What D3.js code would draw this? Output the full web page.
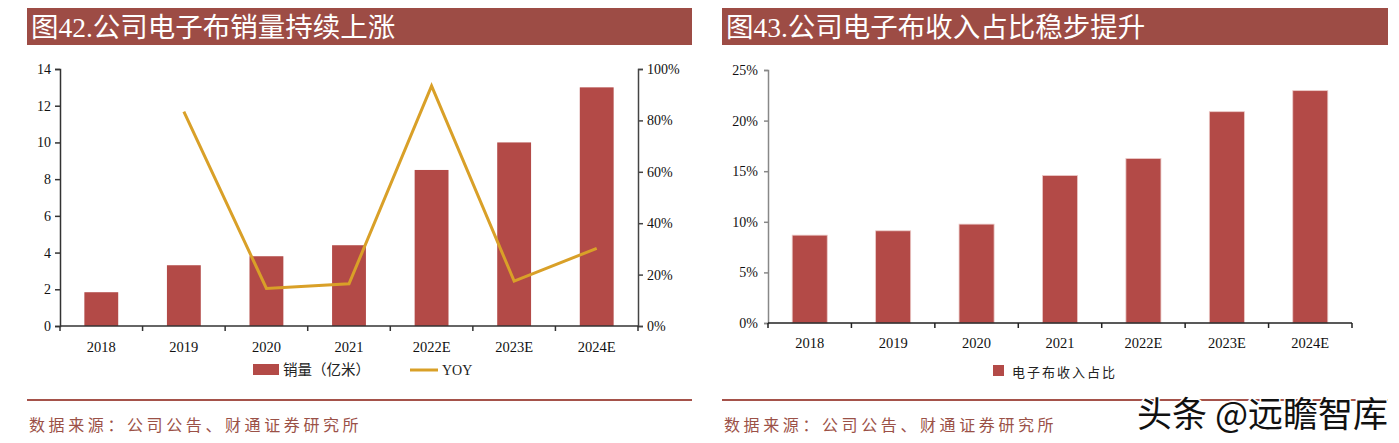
<!DOCTYPE html>
<html>
<head>
<meta charset="utf-8">
<script src="https://cdn.jsdelivr.net/npm/d3@7"></script>
<style>
  html, body { margin: 0; padding: 0; background: #fff; }
  svg { display: block; }
</style>
</head>
<body>
<svg id="chart" width="1399" height="443"></svg>
<script>
// ---- data ----
const categories = ['2018', '2019', '2020', '2021', '2022E', '2023E', '2024E'];
const salesValues = [1.84, 3.31, 3.80, 4.40, 8.50, 10.0, 13.0];          // 销量（亿米）
const yoyValues = [null, 0.834, 0.146, 0.164, 0.934, 0.175, 0.302];      // YOY
const shareValues = [0.0868, 0.0911, 0.0977, 0.1457, 0.1625, 0.2088, 0.2296]; // 电子布收入占比
const salesTicks = [0, 2, 4, 6, 8, 10, 12, 14];
const yoyTicks = [0, 0.2, 0.4, 0.6, 0.8, 1.0];
const shareTicks = [0, 0.05, 0.10, 0.15, 0.20, 0.25];
const leftTitle = '图42.公司电子布销量持续上涨';
const rightTitle = '图43.公司电子布收入占比稳步提升';
const sourceText = '数据来源：公司公告、财通证券研究所';
const salesLabel = '销量（亿米）';
const yoyLabel = 'YOY';
const shareLabel = '电子布收入占比';
const watermark = '头条 @远瞻智库';

// ---- styles ----
const BAR = '#B34A47';
const LINE = '#D9A028';
const TITLE_BG = '#9D4C45';
const RULE = '#A5524A';
const SRC = '#9B5147';
const SERIF = '"Liberation Serif", "Noto Sans CJK SC", serif';
const CJK = '"Noto Sans CJK SC", sans-serif';

const svg = d3.select('#chart');
svg.append('rect').attr('width', 1399).attr('height', 443).attr('fill', '#fff');

function panelFrame(x0, x1, title) {
  svg.append('rect').attr('x', x0).attr('y', 8).attr('width', x1 - x0).attr('height', 37).attr('fill', TITLE_BG);
  svg.append('text').attr('x', x0 + 4).attr('y', 27).attr('dominant-baseline', 'central')
    .attr('font-family', SERIF).attr('font-size', 27.5).attr('fill', '#fff').text(title);
  svg.append('line').attr('x1', x0).attr('x2', x1).attr('y1', 400).attr('y2', 400)
    .attr('stroke', RULE).attr('stroke-width', 2);
  svg.append('text').attr('x', x0 + 2).attr('y', 424).attr('dominant-baseline', 'central')
    .attr('font-family', CJK).attr('font-size', 16).attr('letter-spacing', 3.6)
    .attr('fill', SRC).text(sourceText);
}

function styleAxis(g, color) {
  g.selectAll('path').attr('stroke', color).attr('stroke-width', 1.5);
  g.selectAll('line').attr('stroke', color).attr('stroke-width', 1.5);
  g.selectAll('text').attr('font-family', SERIF).attr('font-size', 14).attr('fill', '#111');
}

function bottomAxis(x, y0, color, labelY) {
  const g = svg.append('g');
  const [r0, r1] = x.range();
  g.append('line').attr('x1', r0).attr('x2', r1).attr('y1', y0).attr('y2', y0)
    .attr('stroke', color).attr('stroke-width', 1.5);
  const bounds = categories.map(c => x(c)).concat([r1]);
  g.selectAll('line.tk').data(bounds).enter().append('line').attr('class', 'tk')
    .attr('x1', d => d).attr('x2', d => d).attr('y1', y0).attr('y2', y0 + 5)
    .attr('stroke', color).attr('stroke-width', 1.5);
  g.selectAll('text').data(categories).enter().append('text')
    .attr('x', d => x(d) + x.bandwidth() / 2).attr('y', labelY)
    .attr('text-anchor', 'middle').attr('dominant-baseline', 'central')
    .attr('font-family', SERIF).attr('font-size', 14.5).attr('fill', '#111').text(d => d);
}

// ===== Left panel =====
panelFrame(27, 692, leftTitle);
{
  const x = d3.scaleBand().domain(categories).range([60, 638]).padding(0);
  const y = d3.scaleLinear().domain([0, 14]).range([326, 69]);
  const y2 = d3.scaleLinear().domain([0, 1]).range([326, 69]);
  const bw = x.bandwidth() * 0.41;

  svg.append('g').selectAll('rect').data(salesValues).enter().append('rect')
    .attr('x', (d, i) => x(categories[i]) + (x.bandwidth() - bw) / 2)
    .attr('y', d => y(d)).attr('width', bw).attr('height', d => y(0) - y(d))
    .attr('fill', BAR);

  const line = d3.line()
    .defined(d => d.v !== null)
    .x(d => x(d.c) + x.bandwidth() / 2).y(d => y2(d.v));
  svg.append('path').datum(categories.map((c, i) => ({ c, v: yoyValues[i] })))
    .attr('d', line).attr('fill', 'none').attr('stroke', LINE).attr('stroke-width', 3)
    .attr('stroke-linejoin', 'miter');

  const gl = svg.append('g').attr('transform', 'translate(60,0)')
    .call(d3.axisLeft(y).tickValues(salesTicks).tickSize(5).tickPadding(4).tickFormat(d3.format('d')));
  styleAxis(gl, '#333');
  const gr = svg.append('g').attr('transform', 'translate(638,0)')
    .call(d3.axisRight(y2).tickValues(yoyTicks).tickSize(5).tickPadding(4).tickFormat(d3.format('.0%')));
  styleAxis(gr, '#444');
  bottomAxis(x, 326, '#333', 347);

  // legend
  svg.append('rect').attr('x', 253).attr('y', 364).attr('width', 26).attr('height', 11).attr('fill', BAR);
  svg.append('text').attr('x', 283).attr('y', 370).attr('dominant-baseline', 'central')
    .attr('font-family', SERIF).attr('font-size', 14.5).attr('fill', '#222').text(salesLabel);
  svg.append('line').attr('x1', 410).attr('x2', 438).attr('y1', 370).attr('y2', 370)
    .attr('stroke', LINE).attr('stroke-width', 3);
  svg.append('text').attr('x', 442).attr('y', 370).attr('dominant-baseline', 'central')
    .attr('font-family', SERIF).attr('font-size', 14).attr('fill', '#222').text(yoyLabel);
}

// ===== Right panel =====
panelFrame(722, 1388, rightTitle);
{
  const x = d3.scaleBand().domain(categories).range([768, 1352]).padding(0);
  const y = d3.scaleLinear().domain([0, 0.25]).range([323, 70]);
  const bw = x.bandwidth() * 0.42;

  svg.append('g').selectAll('rect').data(shareValues).enter().append('rect')
    .attr('x', (d, i) => x(categories[i]) + (x.bandwidth() - bw) / 2)
    .attr('y', d => y(d)).attr('width', bw).attr('height', d => y(0) - y(d))
    .attr('fill', BAR).attr('stroke', '#EBC9C7').attr('stroke-width', 0.8);

  const gl = svg.append('g').attr('transform', 'translate(768,0)')
    .call(d3.axisLeft(y).tickValues(shareTicks).tickSize(4).tickPadding(6).tickFormat(d3.format('.0%')));
  styleAxis(gl, '#888');
  bottomAxis(x, 323, '#222', 343);

  svg.append('rect').attr('x', 993).attr('y', 365).attr('width', 11).attr('height', 11).attr('fill', BAR);
  svg.append('text').attr('x', 1012).attr('y', 371).attr('dominant-baseline', 'central')
    .attr('font-family', CJK).attr('font-size', 13).attr('letter-spacing', 2)
    .attr('fill', '#222').text(shareLabel);
}

// watermark
svg.append('text').attr('x', 1388).attr('y', 411).attr('text-anchor', 'end')
  .attr('dominant-baseline', 'central').attr('font-family', CJK).attr('font-size', 35)
  .attr('fill', '#111').attr('stroke', '#fff').attr('stroke-width', 3)
  .attr('paint-order', 'stroke').text(watermark);
</script>
</body>
</html>
